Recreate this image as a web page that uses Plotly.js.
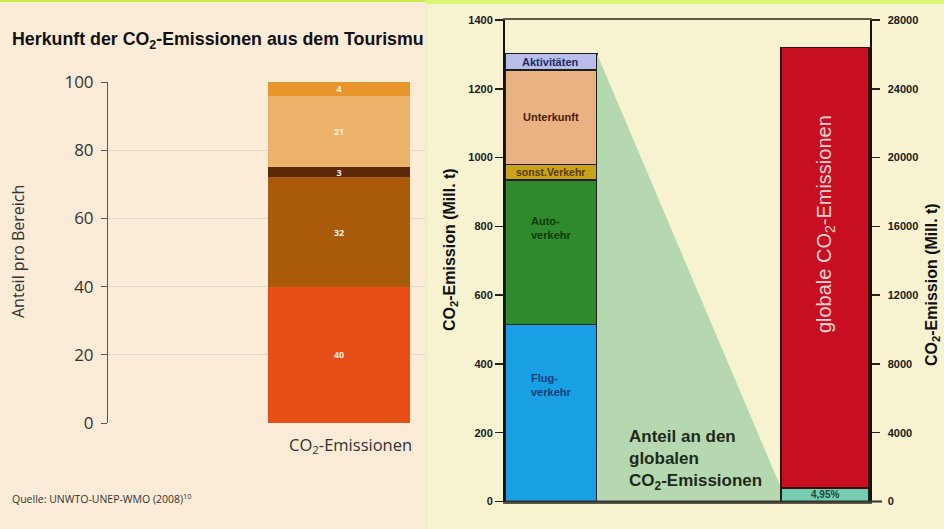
<!DOCTYPE html>
<html>
<head>
<meta charset="utf-8">
<script src="https://cdn.plot.ly/plotly-3.0.1.min.js"></script>
<style>
html,body{margin:0;padding:0;background:#fbebd7;}
#chart{width:944px;height:529px;}
</style>
</head>
<body>
<div id="chart"></div>
<script>
// ---------- Left chart data (share in %) ----------
const leftCategory = "CO<sub>2</sub>-Emissionen";
const leftSegments = ["Flugverkehr", "Autoverkehr", "sonst. Verkehr", "Unterkunft", "Aktivitäten"];
const leftShares = [40, 32, 3, 21, 4];
const leftColors = ["#e84f16", "#a95b0b", "#5b2907", "#edb26a", "#e8952b"];
const leftTicks = [0, 20, 40, 60, 80, 100];

// ---------- Right chart data (Mill. t CO2) ----------
const rightSegments = ["Flugverkehr", "Autoverkehr", "sonst. Verkehr", "Unterkunft", "Aktivitäten"];
const rightLabels = ["Flug-<br>verkehr", "Auto-<br>verkehr", "sonst.Verkehr", "Unterkunft", "Aktivitäten"];
const rightValues = [515, 420, 45, 274, 48];
const rightColors = ["#199fe4", "#2f8a2c", "#c9a41b", "#e9b283", "#b9bdea"];
const rightLabelColors = ["#10407a", "#0d3a0d", "#5a3a00", "#4a1b08", "#1b2a66"];
const globalTotal = 26400;          // globale CO2-Emissionen (right axis)
const tourismShareBar = 780;        // teal segment as drawn (right axis)
const tourismShareLabel = "4,95%";
const leftAxisTicks = [0, 200, 400, 600, 800, 1000, 1200, 1400];
const rightAxisTicks = [0, 4000, 8000, 12000, 16000, 20000, 24000, 28000];

// ---------- geometry (layout only) ----------
const W = 944, H = 529;
const px = v => v / W, py = v => 1 - v / H;
const leftBarX = 0.729, leftBarW = 0.448;
const rBarX1 = 0.126, rBarW1 = 0.252;
const rBarX2 = 0.877, rBarW2 = 0.241;
const y2Max = 1400, y3Max = 28000;
const ratio = y3Max / y2Max;

const traces = [];
// left stacked bar
leftShares.forEach((v, i) => {
  traces.push({
    type: "bar", x: [leftBarX], y: [v], width: [leftBarW], name: leftSegments[i],
    xaxis: "x", yaxis: "y",
    marker: {color: leftColors[i], line: {width: 0}},
    text: ["<b>" + v + "</b>"], textposition: "inside", insidetextanchor: "middle",
    constraintext: "none", textangle: 0,
    textfont: {family: "Open Sans, sans-serif", size: 9, color: "#fdf1e2"},
    hoverinfo: "skip", showlegend: false
  });
});

// funnel (share of global emissions) in right axes coordinates
const tourismTotal = rightValues.reduce((a, b) => a + b, 0);
const fx0 = rBarX1 + rBarW1 / 2, fx1 = rBarX2 - rBarW2 / 2;
traces.push({
  type: "scatter", mode: "lines", xaxis: "x2", yaxis: "y2",
  x: [fx0, fx1, fx1, fx0, fx0],
  y: [tourismTotal, tourismShareBar / ratio, 0, 0, tourismTotal],
  fill: "toself", fillcolor: "#b6d8b0", line: {width: 0, color: "rgba(0,0,0,0)"},
  hoverinfo: "skip", showlegend: false
});

// right stacked bar (tourism)
rightValues.forEach((v, i) => {
  traces.push({
    type: "bar", x: [rBarX1], y: [v], width: [rBarW1], name: rightSegments[i],
    xaxis: "x2", yaxis: "y2",
    marker: {color: rightColors[i], line: {width: 1.5, color: "#1f1f1f"}},
    hoverinfo: "skip", showlegend: false
  });
});
// global bar on secondary axis
traces.push({
  type: "bar", x: [rBarX2], y: [tourismShareBar], width: [rBarW2], name: "Anteil Tourismus",
  xaxis: "x2", yaxis: "y3",
  marker: {color: "#74cdb0", line: {width: 1.5, color: "#1f1f1f"}},
  hoverinfo: "skip", showlegend: false
});
traces.push({
  type: "bar", x: [rBarX2], y: [globalTotal - tourismShareBar], width: [rBarW2], name: "global",
  xaxis: "x2", yaxis: "y3",
  marker: {color: "#c80f22", line: {width: 1.5, color: "#3a1010"}},
  hoverinfo: "skip", showlegend: false
});

// annotations
const ann = [];
ann.push({xref: "paper", yref: "paper", x: px(10), y: py(40), xanchor: "left", yanchor: "middle",
  text: "<b>Herkunft der CO<sub>2</sub>-Emissionen aus dem Tourismu</b>", showarrow: false,
  font: {family: "Liberation Sans, Arial, sans-serif", size: 17.8, color: "#111"}});
ann.push({xref: "paper", yref: "paper", x: px(18), y: py(252), xanchor: "center", yanchor: "middle",
  text: "Anteil pro Bereich", textangle: -90, showarrow: false,
  font: {family: "Open Sans, sans-serif", size: 16, color: "#333"}});
ann.push({xref: "paper", yref: "paper", x: px(350), y: py(445), xanchor: "center", yanchor: "middle",
  text: leftCategory, showarrow: false,
  font: {family: "Open Sans, sans-serif", size: 16.5, color: "#333"}});
ann.push({xref: "paper", yref: "paper", x: px(10), y: py(498), xanchor: "left", yanchor: "middle",
  text: "Quelle: UNWTO-UNEP-WMO (2008)<sup>10</sup>", showarrow: false,
  font: {family: "Open Sans, sans-serif", size: 10.5, color: "#333"}});

// right bar labels
let cum = 0;
const yShifts = [28, 24, 0, 0, 0];
rightValues.forEach((v, i) => {
  const mid = cum + v / 2; cum += v;
  ann.push({xref: "x2", yref: "y2", x: rBarX1, y: mid, yshift: yShifts[i],
    text: "<b>" + rightLabels[i] + "</b>", showarrow: false, align: i < 2 ? "left" : "center",
    font: {family: "Liberation Sans, Arial, sans-serif", size: i === 2 ? 10.5 : 11, color: rightLabelColors[i]}});
});
ann.push({xref: "x2", yref: "y3", x: rBarX2, y: tourismShareBar / 2,
  text: "<b>" + tourismShareLabel + "</b>", showarrow: false,
  font: {family: "Liberation Sans, Arial, sans-serif", size: 10, color: "#1c4a3c"}});
ann.push({xref: "x2", yref: "paper", x: rBarX2, y: py(224),
  text: "globale CO<sub>2</sub>-Emissionen", textangle: -90, showarrow: false,
  font: {family: "Liberation Sans, Arial, sans-serif", size: 20, color: "#f6d3d3"}});
ann.push({xref: "paper", yref: "paper", x: px(627), y: py(460), xanchor: "left", yanchor: "middle",
  text: "<b>Anteil an den<br>globalen<br>CO<sub>2</sub>-Emissionen</b>", align: "left", showarrow: false,
  font: {family: "Liberation Sans, Arial, sans-serif", size: 17, color: "#1d2a1a"}});
ann.push({xref: "paper", yref: "paper", x: px(450), y: py(250), xanchor: "center", yanchor: "middle",
  text: "<b>CO<sub>2</sub>-Emission (Mill. t)</b>", textangle: -90, showarrow: false,
  font: {family: "Liberation Sans, Arial, sans-serif", size: 16, color: "#111"}});
ann.push({xref: "paper", yref: "paper", x: px(932), y: py(285), xanchor: "center", yanchor: "middle",
  text: "<b>CO<sub>2</sub>-Emission (Mill. t)</b>", textangle: -90, showarrow: false,
  font: {family: "Liberation Sans, Arial, sans-serif", size: 16, color: "#111"}});

const shapes = [
  // right panel background
  {type: "rect", xref: "paper", yref: "paper", x0: px(425), x1: 1, y0: 0, y1: 1,
   fillcolor: "#f7f3d1", line: {width: 0}, layer: "below"},
  {type: "rect", xref: "paper", yref: "paper", x0: px(425), x1: px(428), y0: 0, y1: 1,
   fillcolor: "#e9f5c0", line: {width: 0}, layer: "below"},
  // top lime strip
  {type: "rect", xref: "paper", yref: "paper", x0: 0, x1: px(425), y0: py(2), y1: 1,
   fillcolor: "#c9ec4e", line: {width: 0}, layer: "below"},
  {type: "rect", xref: "paper", yref: "paper", x0: px(425), x1: 1, y0: py(4), y1: 1,
   fillcolor: "#dcf576", line: {width: 0}, layer: "below"},
  // bottom line extending past right axis
  {type: "line", xref: "paper", yref: "paper", x0: px(505), x1: px(882), y0: py(501.5), y1: py(501.5),
   line: {color: "#333", width: 2}, layer: "above"}
];

const layout = {
  width: W, height: H,
  margin: {l: 0, r: 0, t: 0, b: 0},
  paper_bgcolor: "#fbebd7", plot_bgcolor: "rgba(0,0,0,0)",
  barmode: "stack", bargap: 0,
  showlegend: false,
  font: {family: "Liberation Sans, Arial, sans-serif"},
  xaxis: {domain: [px(108), px(425)], range: [0, 1], anchor: "y",
    showticklabels: false, ticks: "", showline: false,
    showgrid: false, zeroline: false, fixedrange: true},
  yaxis: {domain: [py(423), py(82)], range: [0, 100], anchor: "x",
    tickvals: leftTicks, ticks: "outside", ticklen: 6, tickcolor: "#555", tickwidth: 1,
    showline: true, linecolor: "#555", linewidth: 1, showgrid: true, gridcolor: "#e0d9cf",
    zeroline: false, ticklabelstandoff: 4,
    tickfont: {family: "Open Sans, sans-serif", size: 17, color: "#333"}},
  xaxis2: {domain: [px(505), px(870)], range: [0, 1], anchor: "y2",
    showticklabels: false, ticks: "", showgrid: false, zeroline: false,
    showline: true, mirror: true, linecolor: "#5d5b45", linewidth: 2.5},
  yaxis2: {domain: [py(501.5), py(20)], range: [0, y2Max], anchor: "x2",
    tickvals: leftAxisTicks, ticktext: leftAxisTicks.map(String),
    ticks: "outside", ticklen: 8, tickcolor: "#222", tickwidth: 1.5,
    showline: true, linecolor: "#111", linewidth: 2, showgrid: false, zeroline: false,
    tickfont: {family: "Liberation Sans, Arial, sans-serif", size: 11, color: "#1a1a1a", weight: "bold"}},
  yaxis3: {domain: [py(501.5), py(20)], range: [0, y3Max], anchor: "x2", overlaying: "y2", side: "right",
    tickvals: rightAxisTicks, ticktext: rightAxisTicks.map(String),
    ticks: "outside", ticklen: 8, tickcolor: "#222", tickwidth: 1.5,
    showline: true, linecolor: "#111", linewidth: 1.5, showgrid: false, zeroline: false,
    ticklabelstandoff: 6,
    tickfont: {family: "Liberation Sans, Arial, sans-serif", size: 11, color: "#1a1a1a", weight: "bold"}},
  annotations: ann,
  shapes: shapes
};

Plotly.newPlot("chart", traces, layout, {displayModeBar: false, staticPlot: true});
</script>
</body>
</html>
